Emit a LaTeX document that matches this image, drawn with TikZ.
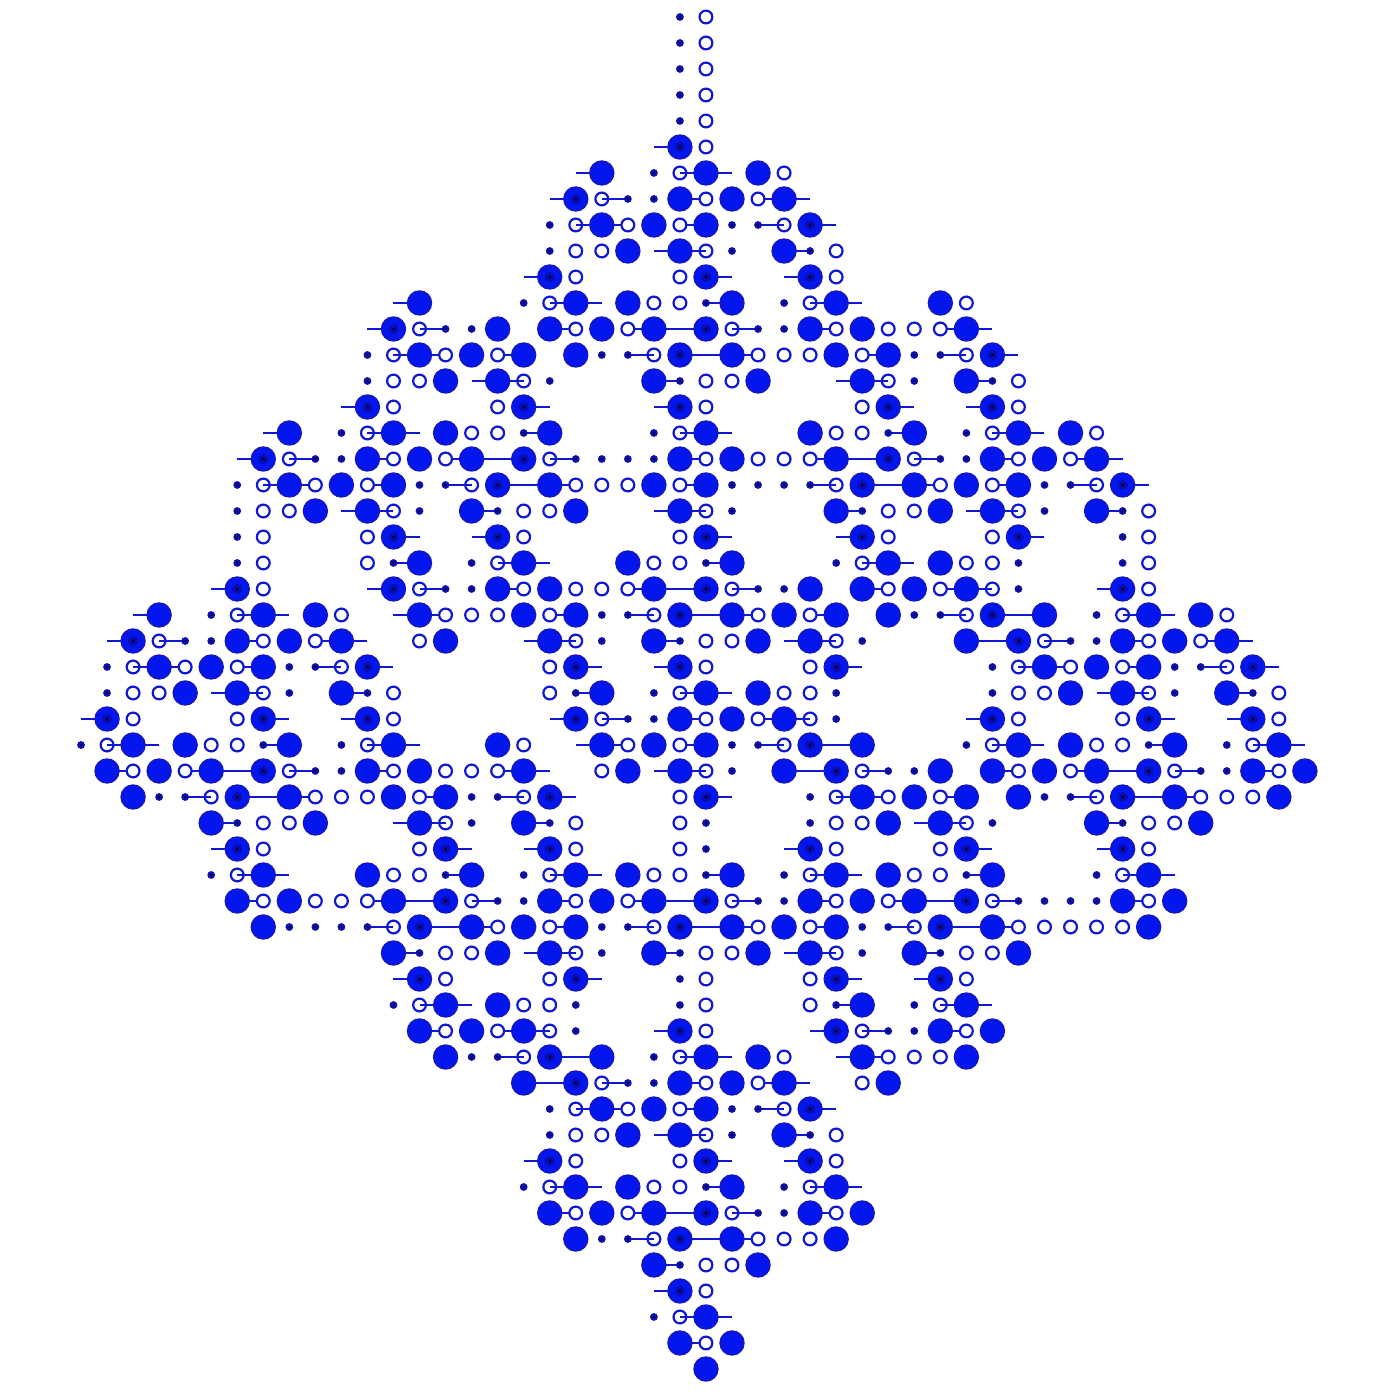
\documentclass[tikz,border=0pt]{standalone}
\usepackage{tikz}
\definecolor{fillblue}{RGB}{3,22,238}
\definecolor{rimblue}{RGB}{22,22,190}
\definecolor{lineblue}{RGB}{16,24,210}
\definecolor{pipblue}{RGB}{14,14,170}
\definecolor{coreblue}{RGB}{10,10,150}
\tikzset{big/.style={circle,draw=rimblue,fill=fillblue,line width=0.7pt,minimum size=12pt,inner sep=0pt},
	bigx/.style={big,path picture={\shade[inner color=coreblue,outer color=fillblue]
		(path picture bounding box.center) circle (2.6pt);
		\fill[black] (path picture bounding box.center) circle (0.6pt);}},
	ring/.style={circle,draw=lineblue,fill=white,line width=1.1pt,minimum size=6.4pt,inner sep=0pt},
	pip/.style={circle,fill=pipblue,minimum size=3.9pt,inner sep=0pt,path picture={
		\fill[black] (path picture bounding box.center) circle (0.45pt);}},
	bond/.style={draw=lineblue,line width=0.9pt}}

\begin{document}
\begin{tikzpicture}[x=0.5pt,y=0.5pt]
	\useasboundingbox (0,0) rectangle (1392,1396);
	\foreach \r in {0,...,52}
		\foreach \c in {0,...,47}
			\coordinate (g-\r-\c) at ({81+26.04*\c},{1379-26*\r});
	\foreach \r/\cs in {5/{22},6/{19,23,24},7/{18,20,23,26,27},8/{19,20,23,26,28},9/{22,23,27},
		10/{17,24,27},11/{12,18,19,24,28,29},12/{11,13,18,21,22,23,25,28,33,34},
		13/{12,13,16,21,23,24,25,30,33,35},14/{15,16,22,29,30,34},15/{10,17,22,31,34},
		16/{7,11,12,17,23,24,31,35,36},17/{6,8,11,14,15,16,18,23,28,29,30,32,35,38,39},
		18/{7,8,11,14,16,17,18,23,28,30,31,32,35,38,40},19/{10,11,15,22,23,29,34,35,39},
		20/{12,15,24,29,36},21/{12,16,17,24,30,31},22/{5,11,13,16,21,22,23,25,30,33,34,39},
		23/{2,6,7,12,13,18,21,23,24,25,28,33,35,36,40,41},
		24/{1,3,6,9,10,17,18,22,27,28,34,35,37,40,43,44},
		25/{2,3,6,9,11,19,22,29,36,37,40,43,45},26/{5,6,10,19,23,24,39,40,44},
		27/{0,7,10,18,20,23,26,27,34,41,44},28/{1,2,7,11,12,19,20,23,26,28,29,35,36,41,45,46},
		29/{1,4,5,6,8,11,16,17,22,23,27,28,30,35,38,39,40,42,45},
		30/{4,6,7,8,13,16,18,24,29,30,33,38,40,41,42},31/{5,12,13,17,32,33,39},
		32/{5,14,17,27,34,39},33/{6,7,14,18,19,24,28,29,34,40,41},
		34/{6,11,12,13,15,18,21,22,23,25,28,31,32,33,35,40},
		35/{11,13,14,15,18,21,23,24,25,28,31,33,34,35},36/{12,17,18,22,27,28,32},
		37/{12,19,29,32},38/{13,14,29,33,34},39/{13,16,17,22,28,30,33},40/{16,18,19,23,24,29,30},
		41/{17,18,20,23,26,27},42/{19,20,23,26,28},43/{22,23,27},44/{17,24,27},45/{18,19,24,28,29},
		46/{18,21,22,23,25,28},47/{21,23,24,25},48/{22},49/{22},50/{23,24},51/{23}}
		\foreach \c in \cs {
			\pgfmathtruncatemacro\n{\c+1}
			\draw[bond] (g-\r-\c) -- (g-\r-\n);
		}
	\foreach \r/\cs in {0/{24},1/{24},2/{24},3/{24},4/{24},5/{24},6/{27},7/{24,26},8/{21,23},
		9/{19,20,29},10/{19,23,29},11/{22,23,34},12/{19,21,29,31,32,33},13/{14,16,26,27,28,30},
		14/{12,13,24,25,36},15/{12,16,24,30,36},16/{15,16,29,30,39},17/{12,14,24,26,27,28,36,38},
		18/{9,11,19,20,21,23,33,35},19/{7,8,17,18,31,32,41},20/{7,11,17,23,31,35,41},
		21/{7,11,22,23,34,35,41},22/{7,17,19,20,21,31,33,41},23/{10,14,15,16,18,26,28,44},
		24/{7,9,13,24,25,41,43},25/{4,6,18,24,28,38,40},26/{2,3,12,18,27,28,36,37,46},
		27/{2,6,12,24,26,36,40,46},28/{5,6,17,21,23,39,40},29/{2,4,12,14,15,16,20,36,38,46},
		30/{9,10,11,13,23,31,33,43,44,45},31/{7,8,19,23,29,30,41,42},32/{7,13,19,23,29,33,41},
		33/{12,13,22,23,32,33},34/{7,9,10,11,19,21,29,31,41},35/{16,18,26,28,36,37,38,39,40},
		36/{14,15,24,25,34,35},37/{14,18,24,28,34},38/{17,18,24,28},39/{14,16,24,34},
		40/{27,31,32,33},41/{24,26,30},42/{21,23},43/{19,20,29},44/{19,23,29},45/{22,23},
		46/{19,21,29},47/{26,27,28},48/{24,25},49/{24},51/{24}}
		\foreach \c in \cs
			\node[ring] (o-\r-\c) at (g-\r-\c) {};
	\foreach \r/\cs in {8/{27},9/{24},13/{22,34},14/{17,31},18/{15,29,39},19/{12,24,36},22/{35},
		23/{22,34},24/{19,29},25/{10,44},26/{7,41},27/{28},28/{27},29/{24},30/{5,17,39},
		31/{14,34},35/{12,22,32},36/{19,29},39/{18},40/{17},42/{27},43/{24},47/{22}}
		\foreach \c in \cs {
			\node[ring] (o-\r-\c) at (g-\r-\c) {};
			\draw[bond] (o-\r-\c.center) -- (o-\r-\c.west);
		}
	\foreach \r/\cs in {6/{23},7/{20},8/{19},11/{18,28},12/{13,25},13/{12},16/{11,23,35},
		17/{8,18,32},18/{7},21/{16,30},22/{13,25},23/{6,40},24/{3,37},25/{2,36},26/{23},27/{20},
		28/{1,11,35,45},29/{8,30,42},30/{29},33/{6,18,28,40},34/{15,25,35},38/{13,33},39/{30},
		40/{23},41/{20},42/{19},45/{18,28},46/{25},50/{23}}
		\foreach \c in \cs {
			\node[ring] (o-\r-\c) at (g-\r-\c) {};
			\draw[bond] (o-\r-\c.center) -- (o-\r-\c.east);
		}
	\foreach \r/\cs in {0/{23},1/{23},2/{23},3/{23},4/{23},6/{22},7/{21,22},8/{18,25,26},
		9/{18,25,28},11/{17,24,27},12/{14,15,26,27},13/{11,20,21,32,33},14/{11,18,23,32,35},
		16/{10,17,22,31,34},17/{9,10,19,20,21,22,33,34},18/{6,13,14,25,26,27,28,37,38},
		19/{6,13,16,25,30,37,40},20/{6,40},21/{6,12,15,24,29,36,40},22/{14,15,26,27,36},
		23/{5,20,21,32,33,39},24/{4,5,20,23,30,38,39},25/{1,8,9,35,42,43},
		26/{1,8,11,19,22,29,35,42,45},27/{21,22,29},28/{0,7,10,25,26,34,41,44},
		29/{9,10,25,31,32,43,44},30/{3,4,15,16,28,37,38},31/{6,15,18,24,28,35,40},32/{24},
		33/{5,14,17,24,27,34,39},34/{16,17,26,27,36,37,38,39},35/{8,9,10,11,20,21,30,31},
		36/{13,20,23,30,33},37/{23},38/{12,19,23,29,32},39/{19,31,32},40/{15,16,22},41/{21,22},
		42/{18,25,26},43/{18,25,28},45/{17,24,27},46/{26,27},47/{20,21},48/{23},50/{22}}
		\foreach \c in \cs
			\node[pip] (p-\r-\c) at (g-\r-\c) {};
	\foreach \r/\cs in {6/{20,24,26},7/{23,25,27},8/{20,22,24},9/{21,23,27},11/{13,19,21,25,29,33},
		12/{16,18,20,22,28,30,34},13/{13,15,17,19,25,29,31},14/{14,16,22,26,30,34},
		16/{8,12,14,18,24,28,32,36,38},17/{11,13,15,23,25,29,35,37,39},
		18/{8,10,12,18,22,24,32,34,36},19/{9,11,15,19,23,29,33,35,39},21/{13,17,21,25,31,33},
		22/{16,18,22,28,30,32,34},23/{3,7,9,13,17,19,25,27,29,31,37,41,43},
		24/{6,8,10,14,18,22,26,28,34,40,42,44},25/{3,5,7,37,39,41},26/{4,6,10,20,24,26,38,40,44},
		27/{23,25,27},28/{2,4,8,12,16,20,22,24,30,36,38,42,46},
		29/{1,3,5,11,13,17,21,23,27,33,35,37,39,45,47},30/{2,8,12,14,30,32,34,36,42,46},
		31/{5,9,13,17,31,33,39,43},33/{7,11,15,19,21,25,29,31,35,41},
		34/{6,8,12,18,20,22,28,30,32,40,42},35/{7,15,17,19,25,27,29,35,41},
		36/{12,16,18,22,26,28,32,36},38/{14,16,30,34},39/{13,15,17,33,35},40/{14,20,24,26,30,34},
		41/{17,23,25,27,31},42/{20,22,24},43/{21,23,27},45/{19,21,25,29},46/{18,20,22,28,30},
		47/{19,25,29},48/{22,26},50/{24},51/{23,25},52/{24}}
		\foreach \c in \cs
			\node[big] (b-\r-\c) at (g-\r-\c) {};
	\foreach \r/\cs in {5/{23},7/{19},8/{28},10/{18,24,28},12/{12,24},13/{23,35},15/{11,17,23,31,35},
		17/{7,17,31},18/{16,30,40},20/{12,16,24,30,36},22/{6,12,24,40},23/{23,35},24/{2,36},
		25/{11,19,23,29,45},27/{1,7,11,19,35,41,45},28/{28},29/{7,29,41},30/{6,18,24,40},
		32/{6,14,18,28,34,40},34/{14,24,34},35/{13,23,33},37/{13,19,29,33},39/{23,29},40/{18},
		41/{19},42/{28},44/{18,24,28},46/{24},47/{23},49/{23}}
		\foreach \c in \cs
			\node[bigx] (x-\r-\c) at (g-\r-\c) {};
\end{tikzpicture}
\end{document}
